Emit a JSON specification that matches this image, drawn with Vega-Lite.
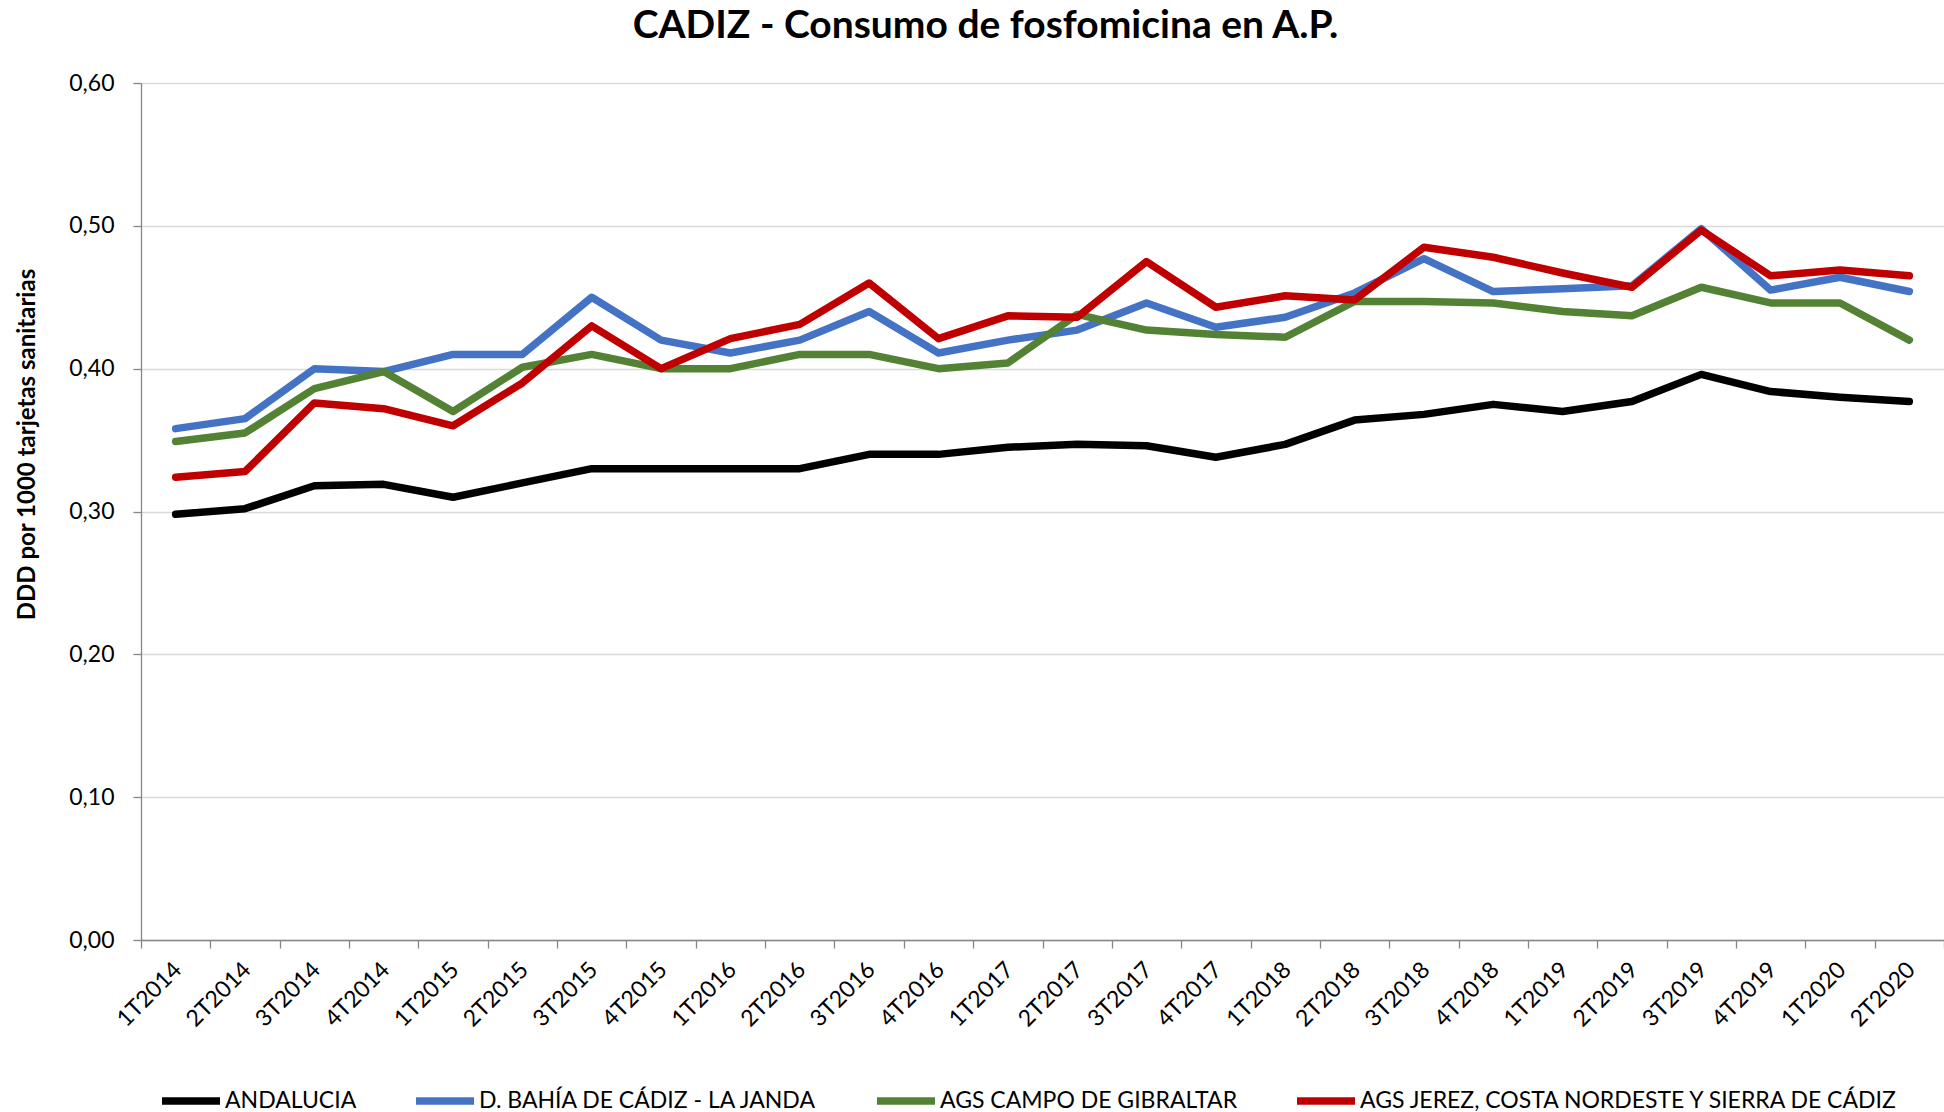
{
  "$schema": "https://vega.github.io/schema/vega-lite/v6.json",
  "width": 1803,
  "height": 857,
  "autosize": "none",
  "padding": {"left": 141, "top": 83, "right": 0, "bottom": 172},
  "background": "white",
  "title": {"text": "CADIZ - Consumo de fosfomicina en A.P.", "font": "Lato", "fontSize": 39, "fontWeight": "bold", "color": "#000000", "anchor": "middle", "frame": "group", "dx": -57, "offset": 26},
  "data": {"values": [
    {"t": "1T2014", "s": "ANDALUCIA", "v": 0.298},
    {"t": "2T2014", "s": "ANDALUCIA", "v": 0.302},
    {"t": "3T2014", "s": "ANDALUCIA", "v": 0.318},
    {"t": "4T2014", "s": "ANDALUCIA", "v": 0.319},
    {"t": "1T2015", "s": "ANDALUCIA", "v": 0.310},
    {"t": "2T2015", "s": "ANDALUCIA", "v": 0.320},
    {"t": "3T2015", "s": "ANDALUCIA", "v": 0.330},
    {"t": "4T2015", "s": "ANDALUCIA", "v": 0.330},
    {"t": "1T2016", "s": "ANDALUCIA", "v": 0.330},
    {"t": "2T2016", "s": "ANDALUCIA", "v": 0.330},
    {"t": "3T2016", "s": "ANDALUCIA", "v": 0.340},
    {"t": "4T2016", "s": "ANDALUCIA", "v": 0.340},
    {"t": "1T2017", "s": "ANDALUCIA", "v": 0.345},
    {"t": "2T2017", "s": "ANDALUCIA", "v": 0.347},
    {"t": "3T2017", "s": "ANDALUCIA", "v": 0.346},
    {"t": "4T2017", "s": "ANDALUCIA", "v": 0.338},
    {"t": "1T2018", "s": "ANDALUCIA", "v": 0.347},
    {"t": "2T2018", "s": "ANDALUCIA", "v": 0.364},
    {"t": "3T2018", "s": "ANDALUCIA", "v": 0.368},
    {"t": "4T2018", "s": "ANDALUCIA", "v": 0.375},
    {"t": "1T2019", "s": "ANDALUCIA", "v": 0.370},
    {"t": "2T2019", "s": "ANDALUCIA", "v": 0.377},
    {"t": "3T2019", "s": "ANDALUCIA", "v": 0.396},
    {"t": "4T2019", "s": "ANDALUCIA", "v": 0.384},
    {"t": "1T2020", "s": "ANDALUCIA", "v": 0.380},
    {"t": "2T2020", "s": "ANDALUCIA", "v": 0.377},
    {"t": "1T2014", "s": "D. BAHÍA DE CÁDIZ - LA JANDA", "v": 0.358},
    {"t": "2T2014", "s": "D. BAHÍA DE CÁDIZ - LA JANDA", "v": 0.365},
    {"t": "3T2014", "s": "D. BAHÍA DE CÁDIZ - LA JANDA", "v": 0.400},
    {"t": "4T2014", "s": "D. BAHÍA DE CÁDIZ - LA JANDA", "v": 0.398},
    {"t": "1T2015", "s": "D. BAHÍA DE CÁDIZ - LA JANDA", "v": 0.410},
    {"t": "2T2015", "s": "D. BAHÍA DE CÁDIZ - LA JANDA", "v": 0.410},
    {"t": "3T2015", "s": "D. BAHÍA DE CÁDIZ - LA JANDA", "v": 0.450},
    {"t": "4T2015", "s": "D. BAHÍA DE CÁDIZ - LA JANDA", "v": 0.420},
    {"t": "1T2016", "s": "D. BAHÍA DE CÁDIZ - LA JANDA", "v": 0.411},
    {"t": "2T2016", "s": "D. BAHÍA DE CÁDIZ - LA JANDA", "v": 0.420},
    {"t": "3T2016", "s": "D. BAHÍA DE CÁDIZ - LA JANDA", "v": 0.440},
    {"t": "4T2016", "s": "D. BAHÍA DE CÁDIZ - LA JANDA", "v": 0.411},
    {"t": "1T2017", "s": "D. BAHÍA DE CÁDIZ - LA JANDA", "v": 0.420},
    {"t": "2T2017", "s": "D. BAHÍA DE CÁDIZ - LA JANDA", "v": 0.427},
    {"t": "3T2017", "s": "D. BAHÍA DE CÁDIZ - LA JANDA", "v": 0.446},
    {"t": "4T2017", "s": "D. BAHÍA DE CÁDIZ - LA JANDA", "v": 0.429},
    {"t": "1T2018", "s": "D. BAHÍA DE CÁDIZ - LA JANDA", "v": 0.436},
    {"t": "2T2018", "s": "D. BAHÍA DE CÁDIZ - LA JANDA", "v": 0.453},
    {"t": "3T2018", "s": "D. BAHÍA DE CÁDIZ - LA JANDA", "v": 0.477},
    {"t": "4T2018", "s": "D. BAHÍA DE CÁDIZ - LA JANDA", "v": 0.454},
    {"t": "1T2019", "s": "D. BAHÍA DE CÁDIZ - LA JANDA", "v": 0.456},
    {"t": "2T2019", "s": "D. BAHÍA DE CÁDIZ - LA JANDA", "v": 0.458},
    {"t": "3T2019", "s": "D. BAHÍA DE CÁDIZ - LA JANDA", "v": 0.498},
    {"t": "4T2019", "s": "D. BAHÍA DE CÁDIZ - LA JANDA", "v": 0.455},
    {"t": "1T2020", "s": "D. BAHÍA DE CÁDIZ - LA JANDA", "v": 0.464},
    {"t": "2T2020", "s": "D. BAHÍA DE CÁDIZ - LA JANDA", "v": 0.454},
    {"t": "1T2014", "s": "AGS CAMPO DE GIBRALTAR", "v": 0.349},
    {"t": "2T2014", "s": "AGS CAMPO DE GIBRALTAR", "v": 0.355},
    {"t": "3T2014", "s": "AGS CAMPO DE GIBRALTAR", "v": 0.386},
    {"t": "4T2014", "s": "AGS CAMPO DE GIBRALTAR", "v": 0.398},
    {"t": "1T2015", "s": "AGS CAMPO DE GIBRALTAR", "v": 0.370},
    {"t": "2T2015", "s": "AGS CAMPO DE GIBRALTAR", "v": 0.401},
    {"t": "3T2015", "s": "AGS CAMPO DE GIBRALTAR", "v": 0.410},
    {"t": "4T2015", "s": "AGS CAMPO DE GIBRALTAR", "v": 0.400},
    {"t": "1T2016", "s": "AGS CAMPO DE GIBRALTAR", "v": 0.400},
    {"t": "2T2016", "s": "AGS CAMPO DE GIBRALTAR", "v": 0.410},
    {"t": "3T2016", "s": "AGS CAMPO DE GIBRALTAR", "v": 0.410},
    {"t": "4T2016", "s": "AGS CAMPO DE GIBRALTAR", "v": 0.400},
    {"t": "1T2017", "s": "AGS CAMPO DE GIBRALTAR", "v": 0.404},
    {"t": "2T2017", "s": "AGS CAMPO DE GIBRALTAR", "v": 0.438},
    {"t": "3T2017", "s": "AGS CAMPO DE GIBRALTAR", "v": 0.427},
    {"t": "4T2017", "s": "AGS CAMPO DE GIBRALTAR", "v": 0.424},
    {"t": "1T2018", "s": "AGS CAMPO DE GIBRALTAR", "v": 0.422},
    {"t": "2T2018", "s": "AGS CAMPO DE GIBRALTAR", "v": 0.447},
    {"t": "3T2018", "s": "AGS CAMPO DE GIBRALTAR", "v": 0.447},
    {"t": "4T2018", "s": "AGS CAMPO DE GIBRALTAR", "v": 0.446},
    {"t": "1T2019", "s": "AGS CAMPO DE GIBRALTAR", "v": 0.440},
    {"t": "2T2019", "s": "AGS CAMPO DE GIBRALTAR", "v": 0.437},
    {"t": "3T2019", "s": "AGS CAMPO DE GIBRALTAR", "v": 0.457},
    {"t": "4T2019", "s": "AGS CAMPO DE GIBRALTAR", "v": 0.446},
    {"t": "1T2020", "s": "AGS CAMPO DE GIBRALTAR", "v": 0.446},
    {"t": "2T2020", "s": "AGS CAMPO DE GIBRALTAR", "v": 0.420},
    {"t": "1T2014", "s": "AGS JEREZ, COSTA NORDESTE Y SIERRA DE CÁDIZ", "v": 0.324},
    {"t": "2T2014", "s": "AGS JEREZ, COSTA NORDESTE Y SIERRA DE CÁDIZ", "v": 0.328},
    {"t": "3T2014", "s": "AGS JEREZ, COSTA NORDESTE Y SIERRA DE CÁDIZ", "v": 0.376},
    {"t": "4T2014", "s": "AGS JEREZ, COSTA NORDESTE Y SIERRA DE CÁDIZ", "v": 0.372},
    {"t": "1T2015", "s": "AGS JEREZ, COSTA NORDESTE Y SIERRA DE CÁDIZ", "v": 0.360},
    {"t": "2T2015", "s": "AGS JEREZ, COSTA NORDESTE Y SIERRA DE CÁDIZ", "v": 0.390},
    {"t": "3T2015", "s": "AGS JEREZ, COSTA NORDESTE Y SIERRA DE CÁDIZ", "v": 0.430},
    {"t": "4T2015", "s": "AGS JEREZ, COSTA NORDESTE Y SIERRA DE CÁDIZ", "v": 0.400},
    {"t": "1T2016", "s": "AGS JEREZ, COSTA NORDESTE Y SIERRA DE CÁDIZ", "v": 0.421},
    {"t": "2T2016", "s": "AGS JEREZ, COSTA NORDESTE Y SIERRA DE CÁDIZ", "v": 0.431},
    {"t": "3T2016", "s": "AGS JEREZ, COSTA NORDESTE Y SIERRA DE CÁDIZ", "v": 0.460},
    {"t": "4T2016", "s": "AGS JEREZ, COSTA NORDESTE Y SIERRA DE CÁDIZ", "v": 0.421},
    {"t": "1T2017", "s": "AGS JEREZ, COSTA NORDESTE Y SIERRA DE CÁDIZ", "v": 0.437},
    {"t": "2T2017", "s": "AGS JEREZ, COSTA NORDESTE Y SIERRA DE CÁDIZ", "v": 0.436},
    {"t": "3T2017", "s": "AGS JEREZ, COSTA NORDESTE Y SIERRA DE CÁDIZ", "v": 0.475},
    {"t": "4T2017", "s": "AGS JEREZ, COSTA NORDESTE Y SIERRA DE CÁDIZ", "v": 0.443},
    {"t": "1T2018", "s": "AGS JEREZ, COSTA NORDESTE Y SIERRA DE CÁDIZ", "v": 0.451},
    {"t": "2T2018", "s": "AGS JEREZ, COSTA NORDESTE Y SIERRA DE CÁDIZ", "v": 0.448},
    {"t": "3T2018", "s": "AGS JEREZ, COSTA NORDESTE Y SIERRA DE CÁDIZ", "v": 0.485},
    {"t": "4T2018", "s": "AGS JEREZ, COSTA NORDESTE Y SIERRA DE CÁDIZ", "v": 0.478},
    {"t": "1T2019", "s": "AGS JEREZ, COSTA NORDESTE Y SIERRA DE CÁDIZ", "v": 0.467},
    {"t": "2T2019", "s": "AGS JEREZ, COSTA NORDESTE Y SIERRA DE CÁDIZ", "v": 0.457},
    {"t": "3T2019", "s": "AGS JEREZ, COSTA NORDESTE Y SIERRA DE CÁDIZ", "v": 0.497},
    {"t": "4T2019", "s": "AGS JEREZ, COSTA NORDESTE Y SIERRA DE CÁDIZ", "v": 0.465},
    {"t": "1T2020", "s": "AGS JEREZ, COSTA NORDESTE Y SIERRA DE CÁDIZ", "v": 0.469},
    {"t": "2T2020", "s": "AGS JEREZ, COSTA NORDESTE Y SIERRA DE CÁDIZ", "v": 0.465}
  ]},
  "mark": {"type": "line", "strokeWidth": 7.5, "strokeCap": "round", "strokeJoin": "round"},
  "encoding": {
    "x": {
      "field": "t", "type": "ordinal", "sort": null, "bandPosition": 0.5,
      "scale": {"type": "band", "paddingInner": 0, "paddingOuter": 0},
      "axis": {"title": null, "labelAngle": -45, "labelFont": "Lato", "labelFontSize": 23, "labelColor": "#000000", "tickBand": "extent", "tickSize": 8, "tickColor": "#868686", "domainColor": "#868686", "domainWidth": 1.3, "tickWidth": 1.3, "labelPadding": 10, "labelOffset": -6, "grid": false}
    },
    "y": {
      "field": "v", "type": "quantitative",
      "scale": {"domain": [0, 0.6], "nice": false, "zero": true},
      "axis": {"values": [0, 0.1, 0.2, 0.3, 0.4, 0.5, 0.6], "labelExpr": "replace(format(datum.value, '.2f'), '.', ',')", "labelFont": "Lato", "labelFontSize": 23, "labelColor": "#000000", "labelPadding": 19, "tickSize": 8, "tickColor": "#868686", "tickWidth": 1.3, "domainColor": "#868686", "domainWidth": 1.3, "grid": true, "gridColor": "#d9d9d9", "gridWidth": 1.3, "title": "DDD por 1000 tarjetas sanitarias", "titleFont": "Lato", "titleFontSize": 24, "titleFontWeight": "bold", "titleColor": "#000000", "titleX": -114, "titleY": 361, "titleAngle": -90, "titleAlign": "center", "titleBaseline": "middle"}
    },
    "color": {
      "field": "s", "type": "nominal", "sort": null,
      "scale": {"domain": ["ANDALUCIA", "D. BAHÍA DE CÁDIZ - LA JANDA", "AGS CAMPO DE GIBRALTAR", "AGS JEREZ, COSTA NORDESTE Y SIERRA DE CÁDIZ"], "range": ["#000000", "#4472C4", "#548235", "#C00000"]},
      "legend": {"title": null, "orient": "none", "legendX": 17, "legendY": 985, "direction": "horizontal", "columns": 4, "columnPadding": 44, "symbolType": "stroke", "symbolSize": 3364, "symbolStrokeWidth": 7.5, "labelFont": "Lato", "labelFontSize": 23, "labelColor": "#000000", "labelLimit": 0, "labelOffset": 1}
    }
  },
  "config": {"view": {"stroke": null}}
}
